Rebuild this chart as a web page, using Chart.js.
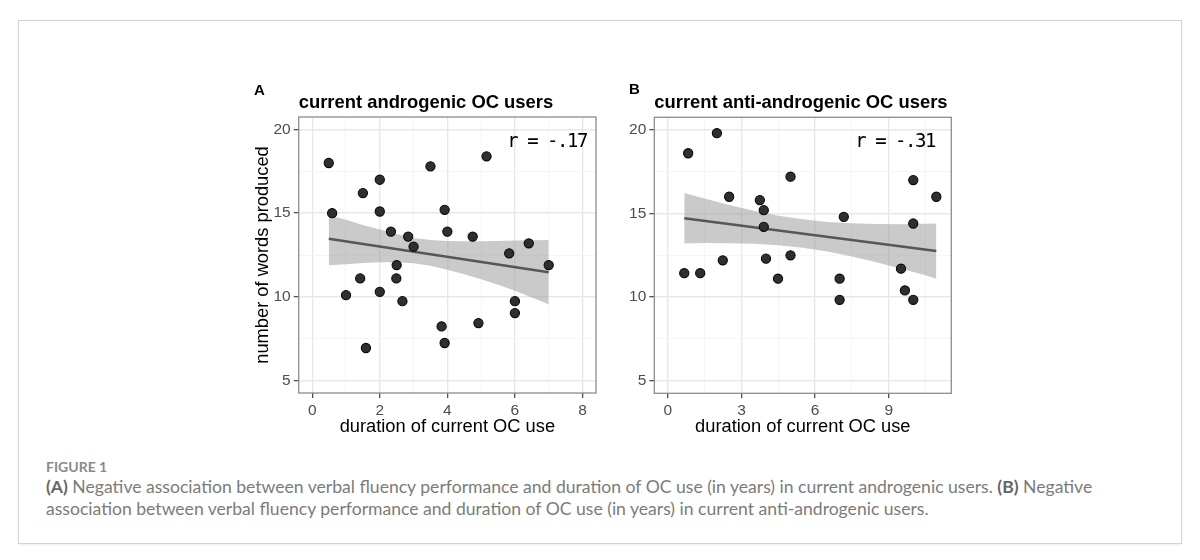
<!DOCTYPE html>
<html>
<head>
<meta charset="utf-8">
<script src="https://cdn.jsdelivr.net/npm/chart.js@4.4.0/dist/chart.umd.min.js"></script>
<style>
  html, body { margin: 0; padding: 0; background: #fff; }
  body { width: 1200px; height: 560px; position: relative; overflow: hidden; }
  #frame {
    position: absolute; left: 18px; top: 20px; width: 1164px; height: 524px;
    box-sizing: border-box; border: 1px solid #d3d3d3;
    box-shadow: 0 1px 2px rgba(0,0,0,0.08);
  }
  canvas { position: absolute; }
  #panelA { left: 240px; top: 70px; }
  #panelB { left: 600px; top: 70px; }
  #figlabel {
    position: absolute; left: 46px; top: 458px; line-height: 16px;
    font: 700 14px Lato, "Open Sans", sans-serif; color: #8a8a8a;
  }
  #caption {
    position: absolute; left: 46px; top: 476px; line-height: 21.5px;
    font-family: Lato, "Open Sans", sans-serif; font-size: 16.5px; color: #7b7b7b;
    white-space: nowrap;
  }
  #caption b { color: #666; }
</style>
</head>
<body>
<div id="frame"></div>
<canvas id="panelA" width="370" height="380"></canvas>
<canvas id="panelB" width="380" height="380"></canvas>
<div id="figlabel">FIGURE 1</div>
<div id="caption"><span id="line1"><b>(A)</b> Negative association between verbal fluency performance and duration of OC use (in years) in current androgenic users. <b>(B)</b> Negative</span><br>association between verbal fluency performance and duration of OC use (in years) in current anti-androgenic users.</div>

<script>
// panel A: current androgenic OC users
const durationA = [0.49, 0.59, 1.0, 1.42, 1.5, 1.59, 2.0, 2.0, 2.0, 2.33, 2.5, 2.49, 2.67, 2.84,
                   3.0, 3.5, 3.83, 3.92, 3.92, 4.0, 4.75, 4.92, 5.16, 5.83, 6.0, 6.0, 6.41, 7.0];
const wordsA = [18.0, 15.0, 10.1, 11.1, 16.2, 6.94, 17.0, 15.1, 10.3, 13.9, 11.9, 11.1, 9.74, 13.6,
                13.0, 17.8, 8.23, 15.2, 7.24, 13.9, 13.6, 8.43, 18.4, 12.6, 9.74, 9.03, 13.2, 11.9];
const fitXA = [0.49, 7.0];
const fitYA = [13.47, 11.47];
const bandXA = [0.49, 1, 1.5, 2, 2.5, 3, 3.5, 4, 4.5, 5, 5.5, 6, 6.5, 7];
const bandHiA = [14.88, 14.6, 14.3, 14.02, 13.75, 13.52, 13.4, 13.34, 13.32, 13.32, 13.34, 13.36, 13.38, 13.4];
const bandLoA = [11.88, 11.95, 12.02, 12.06, 12.07, 12.0, 11.85, 11.62, 11.35, 11.05, 10.72, 10.36, 9.96, 9.55];
const xTicksA = [0, 2, 4, 6, 8];
const xMinorA = [1, 3, 5, 7];

// panel B: current anti-androgenic OC users
const durationB = [0.67, 0.83, 1.32, 2.0, 2.24, 2.5, 3.75, 3.91, 3.91, 4.0, 4.49, 5.0, 5.0,
                   7.0, 7.0, 7.17, 9.5, 9.66, 10.0, 10.0, 10.0, 10.94];
const wordsB = [11.43, 18.6, 11.43, 19.8, 12.2, 16.0, 15.8, 15.2, 14.2, 12.3, 11.1, 17.2, 12.5,
                11.1, 9.84, 14.8, 11.7, 10.4, 17.0, 14.4, 9.84, 16.0];
const fitXB = [0.67, 10.94];
const fitYB = [14.72, 12.76];
const bandXB = [0.67, 1.5, 2.5, 3.5, 4.5, 5.5, 6.5, 7.5, 8.5, 9.5, 10.5, 10.94];
const bandHiB = [16.22, 15.89, 15.51, 15.17, 14.87, 14.65, 14.49, 14.41, 14.37, 14.36, 14.38, 14.4];
const bandLoB = [13.2, 13.23, 13.22, 13.19, 13.1, 12.95, 12.72, 12.43, 12.08, 11.7, 11.3, 11.1];
const xTicksB = [0, 3, 6, 9];
const xMinorB = [1.5, 4.5, 7.5, 10.5];

const yTicks = [5, 10, 15, 20];
const yMinor = [7.5, 12.5, 17.5];

const FONT = '"Liberation Sans", Arial, sans-serif';

function toPoints(xs, ys) {
    return xs.map((x, i) => ({ x: x, y: ys[i] }));
}

// panel border, letters, titles and the r annotation
const panelDecor = {
    id: 'panelDecor',
    afterDraw(chart, args, o) {
        const ctx = chart.ctx;
        const a = chart.chartArea;
        ctx.save();
        ctx.strokeStyle = '#8c8c8c';
        ctx.lineWidth = 1.3;
        ctx.strokeRect(a.left, a.top, a.right - a.left, a.bottom - a.top);

        ctx.fillStyle = '#000';
        ctx.textBaseline = 'alphabetic';
        ctx.textAlign = 'left';
        ctx.font = 'bold 15px ' + FONT;
        ctx.fillText(o.letter, o.letterX, o.letterY);
        ctx.font = 'bold 18.4px ' + FONT;
        ctx.fillText(o.title, a.left, o.titleY);

        ctx.font = '19px "DejaVu Sans Mono", monospace';
        ctx.letterSpacing = '-1.5px';
        ctx.textAlign = 'right';
        ctx.textBaseline = 'middle';
        ctx.fillText(o.rText, chart.scales.x.getPixelForValue(o.rX), chart.scales.y.getPixelForValue(o.rY));
        ctx.restore();
    }
};

function axis(major, minor, min, max, fitSize, isX, title, titlePad) {
    const isMajor = c => c.tick && major.includes(c.tick.value);
    return {
        type: 'linear',
        min: min,
        max: max,
        afterBuildTicks: s => {
            s.ticks = major.concat(minor).sort((p, q) => p - q).map(v => ({ value: v }));
        },
        afterFit: s => {
            if (isX) s.height = fitSize; else s.width = fitSize;
        },
        ticks: {
            autoSkip: false,
            maxRotation: 0,
            padding: 3,
            color: '#4d4d4d',
            font: { family: FONT, size: 15.5 },
            callback: v => major.includes(v) ? String(v) : ''
        },
        grid: {
            color: c => isMajor(c) ? '#e8e8e8' : '#f3f3f3',
            lineWidth: c => isMajor(c) ? 1.4 : 0.8,
            tickColor: c => isMajor(c) ? '#333' : 'rgba(0,0,0,0)',
            tickLength: 5,
            tickWidth: 1.1
        },
        border: { display: false },
        title: {
            display: !!title,
            text: title || '',
            color: '#000',
            font: { family: FONT, size: 18.3 },
            padding: isX ? { top: 0, bottom: 12.5 } : { top: titlePad, bottom: 0 }
        }
    };
}

function makePanel(id, p) {
    new Chart(document.getElementById(id), {
        type: 'scatter',
        data: {
            datasets: [
                {
                    data: toPoints(p.xs, p.ys),
                    pointRadius: 4.6,
                    pointBackgroundColor: '#2f2f2f',
                    pointBorderColor: '#080808',
                    pointBorderWidth: 1.1,
                    order: 1
                },
                {
                    data: toPoints(p.fitX, p.fitY),
                    showLine: true,
                    borderColor: '#575757',
                    borderWidth: 2.6,
                    pointRadius: 0,
                    order: 2
                },
                {
                    data: toPoints(p.bandX, p.bandLo),
                    showLine: true,
                    borderColor: 'rgba(0,0,0,0)',
                    borderWidth: 0,
                    pointRadius: 0,
                    fill: false,
                    order: 3
                },
                {
                    data: toPoints(p.bandX, p.bandHi),
                    showLine: true,
                    borderColor: 'rgba(0,0,0,0)',
                    borderWidth: 0,
                    pointRadius: 0,
                    fill: 2,
                    backgroundColor: 'rgba(153,153,153,0.52)',
                    order: 3
                }
            ]
        },
        options: {
            responsive: false,
            animation: false,
            events: [],
            layout: { padding: { left: 0, top: p.padTop, right: p.padRight, bottom: 0 } },
            plugins: {
                legend: { display: false },
                tooltip: { enabled: false },
                panelDecor: p.decor
            },
            scales: {
                x: axis(p.xTicks, p.xMinor, p.xMin, p.xMax, p.xAxisH, true, 'duration of current OC use', 13),
                y: axis(yTicks, yMinor, 4.25, 20.75, p.yAxisW, false, p.yTitle, 11.5)
            }
        },
        plugins: [panelDecor]
    });
}

makePanel('panelA', {
    xs: durationA, ys: wordsA, fitX: fitXA, fitY: fitYA,
    bandX: bandXA, bandHi: bandHiA, bandLo: bandLoA,
    xTicks: xTicksA, xMinor: xMinorA, xMin: -0.4, xMax: 8.4,
    padTop: 47, padRight: 14, xAxisH: 57, yAxisW: 58.7,
    yTitle: 'number of words produced',
    decor: { letter: 'A', letterX: 14, letterY: 24.5, title: 'current androgenic OC users', titleY: 38.3,
             rText: 'r = -.17', rX: 8.13, rY: 19.24 }
});

makePanel('panelB', {
    xs: durationB, ys: wordsB, fitX: fitXB, fitY: fitYB,
    bandX: bandXB, bandHi: bandHiB, bandLo: bandLoB,
    xTicks: xTicksB, xMinor: xMinorB, xMin: -0.55, xMax: 11.55,
    padTop: 47.3, padRight: 28.7, xAxisH: 56.7, yAxisW: 54.3,
    yTitle: '',
    decor: { letter: 'B', letterX: 29, letterY: 23.8, title: 'current anti-androgenic OC users', titleY: 38.2,
             rText: 'r = -.31', rX: 10.88, rY: 19.24 }
});

// fit caption line 1 to the reference width
const cap = document.getElementById('caption');
const w1 = document.getElementById('line1').getBoundingClientRect().width;
cap.style.fontSize = (16.5 * 1047 / w1).toFixed(2) + 'px';
</script>
</body>
</html>
